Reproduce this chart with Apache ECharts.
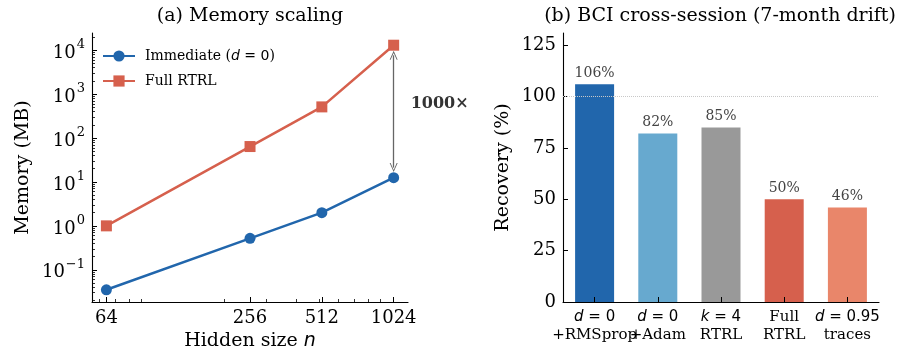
<!DOCTYPE html>
<html lang="en">
<head>
  <meta charset="UTF-8">
  <title>Memory scaling / BCI cross-session</title>
  <script src="https://cdn.jsdelivr.net/npm/echarts@6/dist/echarts.min.js"></script>
  <style>
    html, body { margin: 0; padding: 0; background: #fff; }
    #main { width: 903px; height: 351px; }
  </style>
</head>
<body>
  <div id="main"></div>
  <script>
    // (a) memory scaling
    const hiddenSizes = [64, 256, 512, 1024];
    const memImmediate = [0.035, 0.52, 2, 12.5];
    const memFullRtrl = [1, 64, 512, 13000];
    const xTicks = [64, 256, 512, 1024];
    const xMinorTicks = [60, 70, 80, 90, 200, 300, 400, 500, 600, 700, 800, 900];
    const yTicks = [0.1, 1, 10, 100, 1000, 10000];
    const yDecades = [0.01, 0.1, 1, 10, 100, 1000, 10000];
    const gapLabelAt = 600; // where the "1000×" text sits on the y axis
    const arrowPad = 1.7;   // arrow stops short of the markers (factor on log scale)

    // (b) BCI cross-session recovery
    const methodLine1 = ['{it|d}{ms| = 0}', '{it|d}{ms| = 0}', '{it|k}{ms| = 4}', '{sf|Full}', '{it|d}{ms| = 0.95}'];
    const methodLine2 = ['+RMSprop', '+Adam', 'RTRL', 'RTRL', 'traces'];
    const recovery = [106, 82, 85, 50, 46];
    const barColors = ['#2166ac', '#67a9cf', '#999999', '#d6604d', '#e9866a'];
    const recoveryTicks = [0, 25, 50, 75, 100, 125];

    const blue = '#2166ac';
    const red = '#d6604d';
    const serif = 'DejaVu Serif';

    let yMinorTicks = [];
    yDecades.forEach(d => {
      for (let k = 2; k <= 9; k++) yMinorTicks.push(+(d * k).toPrecision(3));
    });

    // 10^k labels with a raised exponent
    function pow10Label(v) {
      const e = Math.round(Math.log10(v));
      return '{b|10}{s|' + (e < 0 ? '−' + (-e) : e) + '}';
    }

    function richSet(size, lh) {
      return {
        it: { fontFamily: 'DejaVu Sans', fontStyle: 'italic', fontSize: size, lineHeight: lh, color: '#000' },
        ms: { fontFamily: 'DejaVu Sans', fontSize: size, lineHeight: lh, color: '#000' },
        sf: { fontFamily: serif, fontSize: size, lineHeight: lh, color: '#000' }
      };
    }

    const axisBlack = { show: true, lineStyle: { color: '#000', width: 1.1 } };
    const axisClear = { show: true, lineStyle: { color: 'rgba(0,0,0,0)', width: 1 } };
    const arrowHead = 'path://M0,10 L5,0 L10,10 L8.8,10 L5,2.4 L1.2,10 Z';

    let myChart = echarts.init(document.getElementById('main'));

    let option = {
      animation: false,
      backgroundColor: '#fff',
      title: [
        {
          text: '(a) Memory scaling',
          left: 250, top: 7, padding: 0, textAlign: 'center',
          textStyle: { fontFamily: serif, fontSize: 19, fontWeight: 'normal', color: '#000' }
        },
        {
          text: '(b) BCI cross-session (7-month drift)',
          left: 720, top: 7, padding: 0, textAlign: 'center',
          textStyle: { fontFamily: serif, fontSize: 19, fontWeight: 'normal', color: '#000' }
        }
      ],
      legend: {
        data: ['Immediate (d = 0)', 'Full RTRL'],
        left: 97, top: 44, orient: 'vertical',
        itemWidth: 32, itemHeight: 14, itemGap: 11,
        selectedMode: false,
        formatter: function (name) {
          if (name.indexOf('Immediate') === 0) {
            return '{sf|Immediate (}{it|d}{ms| = 0}{sf|)}';
          }
          return '{sf|' + name + '}';
        },
        textStyle: { padding: [0, 0, 0, 5], rich: richSet(14, 17) }
      },
      grid: [
        { left: 92, top: 33, width: 316, height: 269, outerBoundsMode: 'none' },
        { left: 563, top: 33, width: 316, height: 269, outerBoundsMode: 'none' }
      ],
      xAxis: [
        {
          gridIndex: 0, type: 'log', position: 'bottom',
          min: 55.7, max: 1176,
          name: 'Hidden size {it|n}', nameLocation: 'middle', nameGap: 29,
          nameTextStyle: {
            fontFamily: serif, fontSize: 19, color: '#000',
            rich: { it: { fontFamily: 'DejaVu Sans', fontStyle: 'italic', fontSize: 19, color: '#000' } }
          },
          axisLine: axisBlack,
          axisTick: { show: true, inside: true, length: 5, customValues: xTicks, lineStyle: { color: '#000', width: 1 } },
          axisLabel: { customValues: xTicks, formatter: v => String(v), fontFamily: serif, fontSize: 18, color: '#000', margin: 7 },
          splitLine: { show: false }
        },
        {
          gridIndex: 0, type: 'log', position: 'bottom',
          min: 55.7, max: 1176,
          axisLine: axisClear,
          axisTick: { show: true, inside: true, length: 3, customValues: xMinorTicks, lineStyle: { color: '#000', width: 0.8 } },
          axisLabel: { show: false },
          splitLine: { show: false }
        },
        {
          gridIndex: 1, type: 'category', position: 'bottom', z: 10,
          data: methodLine2,
          axisLine: axisBlack,
          axisTick: { show: true, inside: true, length: 5, alignWithLabel: true, lineStyle: { color: '#000', width: 1 } },
          axisLabel: {
            interval: 0, margin: 6,
            formatter: function (value, idx) {
              return methodLine1[idx] + '\n{sf|' + methodLine2[idx] + '}';
            },
            rich: richSet(15, 18)
          }
        }
      ],
      yAxis: [
        {
          gridIndex: 0, type: 'log', position: 'left',
          min: 0.01845, max: 24660,
          name: 'Memory (MB)', nameLocation: 'middle', nameGap: 59,
          nameTextStyle: { fontFamily: serif, fontSize: 19, color: '#000' },
          axisLine: axisBlack,
          axisTick: { show: true, inside: true, length: 5, customValues: yTicks, lineStyle: { color: '#000', width: 1 } },
          axisLabel: {
            customValues: yTicks, formatter: pow10Label, margin: 7,
            rich: {
              b: { fontFamily: serif, fontSize: 18, color: '#000', lineHeight: 24, verticalAlign: 'bottom' },
              s: { fontFamily: serif, fontSize: 13, color: '#000', lineHeight: 24, verticalAlign: 'top', padding: [0, 0, 0, 1] }
            }
          },
          splitLine: { show: false }
        },
        {
          gridIndex: 0, type: 'log', position: 'left',
          min: 0.01845, max: 24660,
          axisLine: axisClear,
          axisTick: { show: true, inside: true, length: 3, customValues: yMinorTicks, lineStyle: { color: '#000', width: 0.8 } },
          axisLabel: { show: false },
          splitLine: { show: false }
        },
        {
          gridIndex: 1, type: 'value', position: 'left',
          min: 0, max: 131,
          name: 'Recovery (%)', nameLocation: 'middle', nameGap: 50,
          nameTextStyle: { fontFamily: serif, fontSize: 19, color: '#000' },
          axisLine: axisBlack,
          axisTick: { show: true, inside: true, length: 5, customValues: recoveryTicks, lineStyle: { color: '#000', width: 1 } },
          axisLabel: { customValues: recoveryTicks, fontFamily: serif, fontSize: 18, color: '#000', margin: 7 },
          splitLine: { show: false }
        }
      ],
      series: [
        {
          name: 'Immediate (d = 0)',
          type: 'line', xAxisIndex: 0, yAxisIndex: 0,
          data: hiddenSizes.map((n, i) => [n, memImmediate[i]]),
          symbol: 'circle', symbolSize: 11,
          lineStyle: { color: blue, width: 2.5 },
          itemStyle: { color: blue },
          z: 3
        },
        {
          name: 'Full RTRL',
          type: 'line', xAxisIndex: 0, yAxisIndex: 0,
          data: hiddenSizes.map((n, i) => [n, memFullRtrl[i]]),
          symbol: 'rect', symbolSize: 11,
          lineStyle: { color: red, width: 2.5 },
          itemStyle: { color: red },
          z: 3,
          markLine: {
            silent: true, z: 2,
            symbol: [arrowHead, arrowHead],
            symbolSize: [8, 9],
            lineStyle: { color: '#666', width: 1.3, type: 'solid' },
            label: { show: false },
            data: [[
              { coord: [hiddenSizes[3], memFullRtrl[3] / arrowPad] },
              { coord: [hiddenSizes[3], memImmediate[3] * arrowPad] }
            ]]
          },
          markPoint: {
            silent: true,
            symbol: 'circle', symbolSize: 0,
            label: {
              show: true, position: 'right', distance: 17,
              formatter: '1000×',
              fontFamily: serif, fontWeight: 'bold', fontSize: 16, color: '#333'
            },
            data: [{ coord: [hiddenSizes[3], gapLabelAt] }]
          }
        },
        {
          name: 'Recovery',
          type: 'bar', xAxisIndex: 2, yAxisIndex: 2,
          data: recovery.map((v, i) => ({ value: v, itemStyle: { color: barColors[i] } })),
          barWidth: 39,
          label: {
            show: true, position: 'top', distance: 4,
            formatter: '{c}%',
            fontFamily: serif, fontSize: 14, color: '#444'
          },
          markLine: {
            silent: true, symbol: 'none',
            lineStyle: { color: '#c8c8c8', width: 1, type: 'dotted' },
            label: { show: false },
            data: [{ yAxis: 100 }]
          }
        }
      ]
    };

    myChart.setOption(option);
  </script>
</body>
</html>
